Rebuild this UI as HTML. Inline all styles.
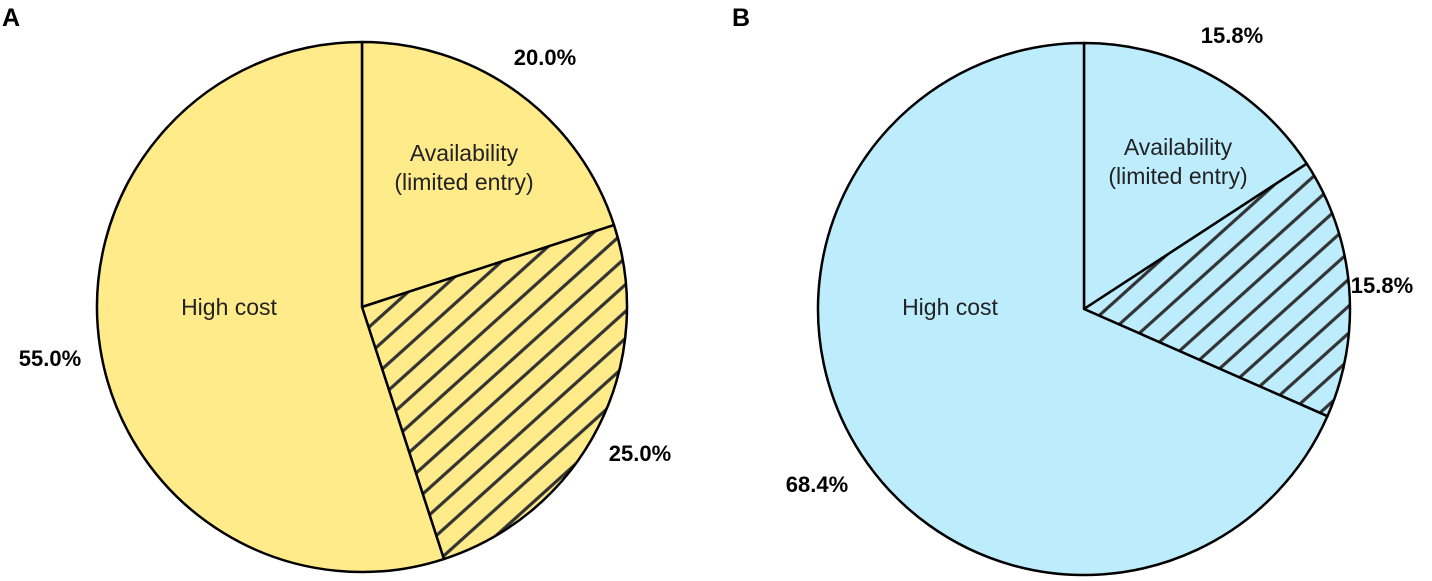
<!DOCTYPE html>
<html><head><meta charset="utf-8"><style>
body{margin:0;background:#fff}
svg{display:block;font-family:"Liberation Sans",Arial,sans-serif}
</style></head><body>
<svg id="c" width="1432" height="581" viewBox="0 0 1432 581">
<defs>
<pattern id="hatch" patternUnits="userSpaceOnUse" width="20" height="20" patternTransform="rotate(48)">
<line x1="10" y1="-5" x2="10" y2="25" stroke="#333" stroke-width="3.2"/>
</pattern>
</defs>
</svg>
<script>
const categories = ["Availability (limited entry)", "Hatched", "High cost"];
const valuesA = [20.0, 25.0, 55.0];
const valuesB = [15.8, 15.8, 68.4];
const labelsA = ["20.0%", "25.0%", "55.0%"];
const labelsB = ["15.8%", "15.8%", "68.4%"];

const NS = "http://www.w3.org/2000/svg";
const svg = document.getElementById('c');
function mk(tag, attrs, parent){
  const e = document.createElementNS(NS, tag);
  for (const k in attrs) e.setAttribute(k, attrs[k]);
  (parent||svg).appendChild(e);
  return e;
}
function pt(cx, cy, r, frac){
  const a = frac * 2 * Math.PI;
  return [cx + r*Math.sin(a), cy - r*Math.cos(a)];
}
function drawPie(id, cx, cy, r, vals, labs, fill, pctPos, availPos, highPos){
  const g = mk('g', {});
  
  
  const tot = vals.reduce((a,b)=>a+b,0);
  let acc = 0;
  vals.forEach((v,i)=>{
    const f0 = acc/tot, f1 = (acc+v)/tot; acc += v;
    const [x0,y0] = pt(cx,cy,r,f0), [x1,y1] = pt(cx,cy,r,f1);
    const large = (f1-f0) > 0.5 ? 1 : 0;
    const d = `M${cx},${cy} L${x0},${y0} A${r},${r} 0 ${large} 1 ${x1},${y1} Z`;
    const p = mk('path', {d:d, fill:fill, stroke:'none'}, g);
    
    
    if (i === 1){
      const h = mk('path', {d:d, fill:'url(#hatch)', stroke:'none'}, g);
      
      
    }
    const o = mk('path', {d:d, fill:'none', stroke:'#000', 'stroke-width':2.5, 'stroke-linejoin':'round'}, g);
    
    
    const t = mk('text', {x:pctPos[i][0], y:pctPos[i][1], 'text-anchor':'middle', 'font-size':22, 'font-weight':'bold', fill:'#000'}, g);
    t.textContent = labs[i];
    
    
  });
  const a1 = mk('text', {x:availPos[0], y:availPos[1], 'text-anchor':'middle', 'font-size':23, fill:'#222'}, g);
  a1.textContent = 'Availability';
  
  
  const a2 = mk('text', {x:availPos[0], y:availPos[1]+29, 'text-anchor':'middle', 'font-size':23, fill:'#222'}, g);
  a2.textContent = '(limited entry)';
  
  
  const hc = mk('text', {x:highPos[0], y:highPos[1], 'text-anchor':'middle', 'font-size':23, fill:'#222'}, g);
  hc.textContent = 'High cost';
  
  
}
drawPie('a', 362, 307, 265, valuesA, labelsA, '#FFEB8A',
  [[545,65],[640,461],[50,366]], [464,161], [229,315]);
drawPie('b', 1084, 309, 266, valuesB, labelsB, '#BDEDFD',
  [[1232,43],[1382,293],[817,492]], [1178,155], [950,315]);

const pa = mk('text', {x:2, y:26, 'font-size':25, 'font-weight':'bold'});
pa.textContent = 'A';


const pb = mk('text', {x:732, y:26, 'font-size':25, 'font-weight':'bold'});
pb.textContent = 'B';


</script>
</body></html>
